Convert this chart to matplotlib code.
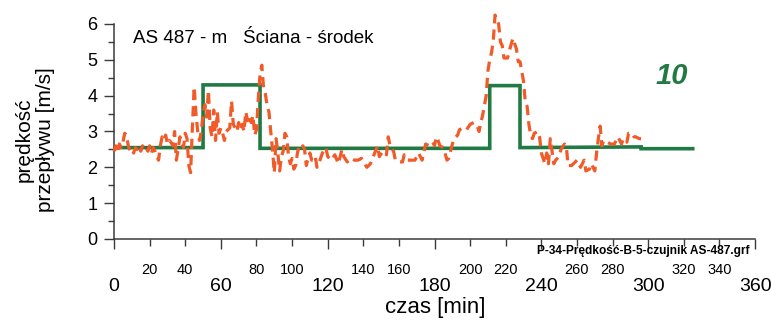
import matplotlib
matplotlib.use('Agg')
import matplotlib.pyplot as plt
from matplotlib.ticker import MultipleLocator, FixedLocator, FuncFormatter

plt.rcParams['font.family'] = ['Liberation Sans', 'DejaVu Sans']

# measured velocity (orange dashed)
t_meas = [0, 1, 2, 3, 4, 5, 6, 7, 8, 9, 10, 11, 12, 13, 14, 15, 16, 17, 18, 19,
          20, 21, 22, 23, 24, 25, 26, 27, 28, 29, 30, 31, 32, 33, 34, 35, 36, 37, 38, 39,
          40, 41, 42, 43, 44, 45, 46, 47, 48, 49, 50, 51, 52, 53, 54, 55, 56, 57, 58, 59,
          60, 61, 62, 63, 64, 65, 66, 67, 68, 69, 70, 71, 72, 73, 74, 75, 76, 77, 78, 79,
          80, 81, 82, 83, 84, 85, 86, 87, 88, 89, 90, 91, 92, 93, 94, 95, 96, 97, 98, 99,
          100, 101, 102, 103, 104, 105, 106, 107, 108, 109, 110, 111, 112, 113, 114, 115,
          117, 119, 120, 122, 124, 126, 128, 129, 131, 133, 135, 137, 139, 142, 144, 146,
          148, 149, 151, 153, 154, 155, 157, 158, 160, 162, 163, 165, 167, 169, 171, 172,
          173, 175, 177, 179, 180, 181, 182, 183, 185, 187, 188, 190, 191, 193, 194, 196,
          198, 200, 202, 204, 205, 206, 207, 209, 210, 211, 212, 213, 214, 216, 217, 218,
          219, 221, 222, 224, 226, 227, 228, 230, 231, 232, 233, 234, 235, 236, 238, 239,
          240, 242, 243, 244, 245, 247, 248, 250, 251, 253, 254, 255, 257, 258, 260, 262,
          264, 265, 267, 268, 270, 271, 272, 273, 274, 275, 277, 279, 281, 283, 285, 286,
          288, 289, 291, 292, 293, 295, 296]
v_meas = [2.45, 2.6, 2.4, 2.65, 2.55, 2.7, 2.95, 2.9, 2.6, 2.45, 2.5, 2.4, 2.55, 2.5, 2.6, 2.45, 2.6, 2.5, 2.55, 2.45,
          2.6, 2.4, 2.55, 2.45, 2.3, 2.2, 2.6, 2.85, 2.75, 2.9, 2.65, 2.75, 2.7, 2.6, 3.0, 2.2, 2.5, 2.85, 2.7, 2.55,
          2.95, 2.8, 2.05, 1.85, 3.1, 4.25, 3.5, 3.0, 2.75, 3.0, 3.5, 3.75, 3.4, 4.15, 3.1, 2.85, 3.6, 2.75, 3.55, 2.95,
          3.1, 2.95, 2.75, 3.0, 3.05, 3.1, 3.85, 3.2, 3.1, 3.0, 3.25, 3.05, 3.2, 3.0, 3.55, 3.3, 3.45, 3.25, 3.45, 2.9,
          3.05, 3.9, 4.6, 4.85, 4.2, 4.05, 3.7, 3.55, 3.0, 2.5, 1.85, 2.8, 2.4, 1.9, 2.3, 2.45, 2.95, 2.85, 2.3, 2.1,
          2.25, 1.95, 2.05, 2.4, 2.6, 2.55, 2.6, 2.5, 2.05, 2.25, 2.4, 2.2, 2.2, 2.3, 2.0, 2.1,
          2.4, 2.55, 2.3, 2.2, 2.35, 2.1, 2.5, 2.3, 2.15, 2.25, 2.2, 2.2, 2.25, 2.0, 2.1, 2.35,
          2.6, 2.3, 2.45, 2.35, 2.85, 2.6, 2.45, 2.2, 2.15, 2.15, 2.35, 2.2, 2.2, 2.2, 2.4, 2.3,
          2.2, 2.65, 2.6, 2.7, 2.6, 2.85, 2.75, 2.6, 2.55, 2.2, 2.25, 2.65, 2.8, 2.9, 3.05, 3.1,
          3.05, 3.2, 3.25, 3.15, 3.0, 3.25, 3.45, 4.0, 4.7, 5.0, 5.2, 5.55, 6.25, 6.0, 5.5, 5.4,
          5.05, 5.05, 5.25, 5.6, 5.3, 4.95, 4.95, 4.4, 3.8, 3.7, 3.2, 2.9, 2.8, 2.95, 3.0, 2.85,
          2.4, 2.1, 2.4, 2.1, 2.8, 2.1, 2.2, 2.3, 2.5, 2.65, 2.6, 2.05, 2.05, 2.1, 2.2, 2.0,
          2.2, 1.9, 1.95, 2.1, 1.9, 2.4, 2.8, 3.15, 2.6, 2.75, 2.7, 2.65, 2.65, 2.85, 2.65, 2.8,
          2.7, 2.95, 2.95, 2.85, 2.85, 2.8, 2.8]

# model velocity (green step line)
t_model = [0, 50, 50, 82, 82, 211, 211, 228, 228, 296, 296, 325]
v_model = [2.55, 2.55, 4.3, 4.3, 2.53, 2.53, 4.28, 4.28, 2.55, 2.57, 2.52, 2.52]

minor_labels = [20, 40, 80, 100, 140, 160, 200, 220, 260, 280, 320, 340]

fig = plt.figure(figsize=(7.71, 3.22), dpi=100)
ax = fig.add_axes([0.1479, 0.2578, 0.8314, 0.6677])

ax.plot(t_model, v_model, color='#217a43', lw=2.6, solid_joinstyle='miter', zorder=2)
ax.plot(t_meas, v_meas, color='#f15a29', lw=2.3, dashes=(3.2, 1.9), zorder=3, clip_on=False)

ax.set_xlim(0, 360)
ax.set_ylim(0, 6)
for s in ['top', 'right']:
    ax.spines[s].set_visible(False)
for s in ['left', 'bottom']:
    ax.spines[s].set_color('#3a3a3a')
    ax.spines[s].set_linewidth(1.1)

ax.xaxis.set_major_locator(MultipleLocator(60))
ax.xaxis.set_minor_locator(FixedLocator(minor_labels))
ax.xaxis.set_minor_formatter(FuncFormatter(lambda v, p: '%d' % v))
ax.yaxis.set_major_locator(MultipleLocator(1))
ax.yaxis.set_minor_locator(MultipleLocator(0.5))

ax.tick_params(axis='x', which='major', length=7, width=1, color='#3a3a3a', pad=21, labelsize=14)
ax.tick_params(axis='x', which='minor', length=5, width=1, color='#3a3a3a', pad=12, labelsize=10.5)
ax.tick_params(axis='y', which='major', length=7, width=1, color='#3a3a3a', pad=5, labelsize=13)
ax.tick_params(axis='y', which='minor', length=4, width=1, color='#3a3a3a')

ax.text(10.5, 5.6, 'AS 487 - m   Ściana - środek', fontsize=13.5, va='center', ha='left')
ax.text(304, 4.55, '10', fontsize=21, fontweight='bold', fontstyle='italic',
        color='#217a43', va='center', ha='left')

fig.text(537 / 771, 1 - 251 / 322, 'P-34-Prędkość-B-5-czujnik AS-487.grf', fontsize=8.6,
         fontweight='bold', va='center', ha='left')
fig.text(435 / 771, 1 - 308 / 322, 'czas [min]', fontsize=16, ha='center', va='center')
fig.text(35 / 771, 1 - 140 / 322, 'prędkość\nprzepływu [m/s]', fontsize=15, rotation=90,
         ha='center', va='center', multialignment='center', linespacing=1.15)

fig.savefig('out.png', dpi=100)
